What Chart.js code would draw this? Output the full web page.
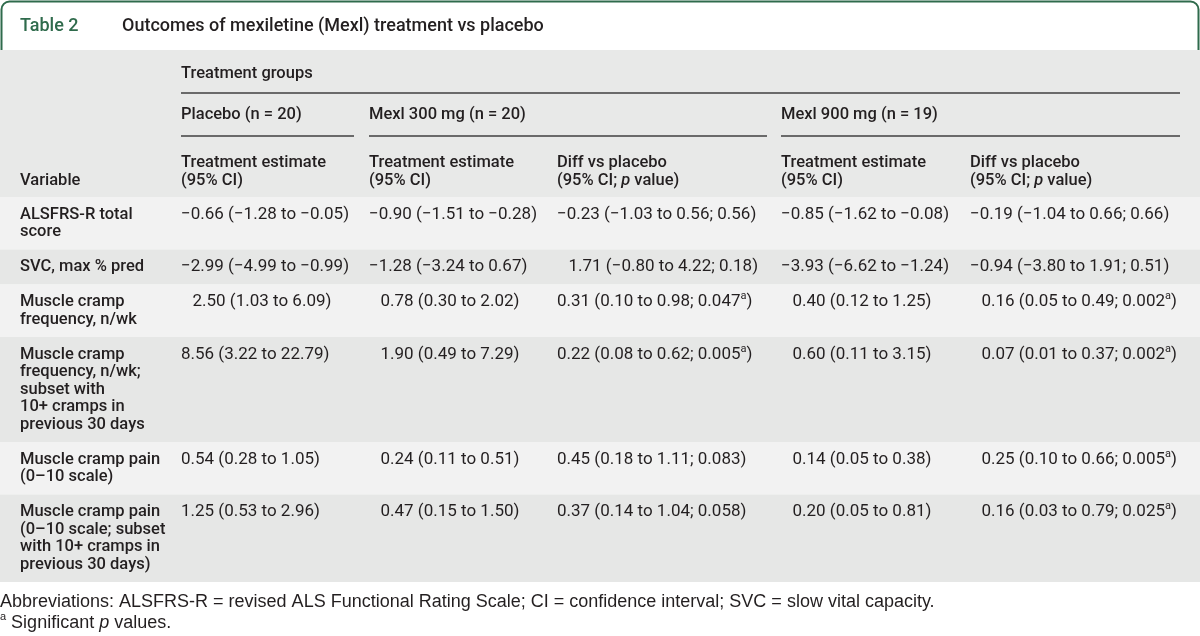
<!DOCTYPE html>
<html>
<head>
<meta charset="utf-8">
<script src="https://cdn.jsdelivr.net/npm/chart.js@4.4.0/dist/chart.umd.min.js"></script>
<style>
  html, body { margin: 0; padding: 0; background: #fff; }
  #wrap { width: 1200px; height: 636px; position: relative; }
</style>
</head>
<body>
<div id="wrap"><canvas id="table"></canvas></div>
<script>
/* global Chart */
// ---- table content ----
const TITLE_LABEL = "Table 2";
const TITLE = "Outcomes of mexiletine (Mexl) treatment vs placebo";
const SPANNER = "Treatment groups";
const GROUPS = ["Placebo (n = 20)", "Mexl 300 mg (n = 20)", "Mexl 900 mg (n = 19)"];
// which data columns each group covers
const GROUP_COLS = [[0, 0], [1, 2], [3, 4]];
const COL_HEADERS = [
  ["Treatment estimate", "(95% CI)"],
  ["Treatment estimate", "(95% CI)"],
  ["Diff vs placebo", "(95% CI; *p* value)"],
  ["Treatment estimate", "(95% CI)"],
  ["Diff vs placebo", "(95% CI; *p* value)"],
];
const STUB_HEADER = "Variable";

const VARIABLES = [
  ["ALSFRS-R total", "score"],
  ["SVC, max % pred"],
  ["Muscle cramp", "frequency, n/wk"],
  ["Muscle cramp", "frequency, n/wk;", "subset with", "10+ cramps in", "previous 30 days"],
  ["Muscle cramp pain", "(0–10 scale)"],
  ["Muscle cramp pain", "(0–10 scale; subset", "with 10+ cramps in", "previous 30 days)"],
];
const PLACEBO = [
  "−0.66 (−1.28 to −0.05)",
  "−2.99 (−4.99 to −0.99)",
  "2.50 (1.03 to 6.09)",
  "8.56 (3.22 to 22.79)",
  "0.54 (0.28 to 1.05)",
  "1.25 (0.53 to 2.96)",
];
const MEXL300 = [
  "−0.90 (−1.51 to −0.28)",
  "−1.28 (−3.24 to 0.67)",
  "0.78 (0.30 to 2.02)",
  "1.90 (0.49 to 7.29)",
  "0.24 (0.11 to 0.51)",
  "0.47 (0.15 to 1.50)",
];
const DIFF300 = [
  "−0.23 (−1.03 to 0.56; 0.56)",
  "1.71 (−0.80 to 4.22; 0.18)",
  "0.31 (0.10 to 0.98; 0.047^a)",
  "0.22 (0.08 to 0.62; 0.005^a)",
  "0.45 (0.18 to 1.11; 0.083)",
  "0.37 (0.14 to 1.04; 0.058)",
];
const MEXL900 = [
  "−0.85 (−1.62 to −0.08)",
  "−3.93 (−6.62 to −1.24)",
  "0.40 (0.12 to 1.25)",
  "0.60 (0.11 to 3.15)",
  "0.14 (0.05 to 0.38)",
  "0.20 (0.05 to 0.81)",
];
const DIFF900 = [
  "−0.19 (−1.04 to 0.66; 0.66)",
  "−0.94 (−3.80 to 1.91; 0.51)",
  "0.16 (0.05 to 0.49; 0.002^a)",
  "0.07 (0.01 to 0.37; 0.002^a)",
  "0.25 (0.10 to 0.66; 0.005^a)",
  "0.16 (0.03 to 0.79; 0.025^a)",
];
const FOOTNOTES = [
  "Abbreviations: ALSFRS-R = revised ALS Functional Rating Scale; CI = confidence interval; SVC = slow vital capacity.",
  "^a Significant *p* values.",
];

// ---- layout & style ----
const FONT = 'Roboto, "Noto Sans", sans-serif';
const FOOT_FONT = '"Liberation Sans", Arial, sans-serif';
const COLORS = {
  green: "#2f6b4c",
  text: "#231f20",
  rule: "#6a6a6a",
  header: "#e8e9e8",
  rowLight: "#f2f2f2",
  rowDark: "#e6e7e6",
};
const L = {
  width: 1200,
  height: 636,
  frameBottom: 50,
  titleY: 26,
  titleLabelX: 20,
  titleX: 122,
  headerTop: 50,
  spannerY: 74,
  rule1Y: 93,
  groupY: 115,
  rule2Y: 136,
  colHeadY: [163, 181],
  headerBottom: 197,
  lineH: 17.5,
  stubX: 20,
  colLeft: [181, 369, 557, 781, 970],
  groupRuleEnd: [354, 767, 1180],
  footY: [602, 623],
  boldSize: 16.5,
  dataSize: 17,
  footSize: 18,
  indent: 11.5,
};
// cells the reference sets with a hanging indent (column, row)
const INDENTED = [[0, 2], [1, 2], [1, 3], [1, 4], [1, 5], [2, 1], [3, 2], [3, 3], [3, 4], [3, 5], [4, 2], [4, 3], [4, 4], [4, 5]];

const columns = [PLACEBO, MEXL300, DIFF300, MEXL900, DIFF900];

// Split "text *italic* text ^a" into styled runs.
function runs(text) {
  return text.split(/(\*[^*]+\*|\^[a-z])/).filter(Boolean).map((s) => {
    if (s.startsWith("*")) return { t: s.slice(1, -1), style: "italic" };
    if (s.startsWith("^")) return { t: s.slice(1), style: "sup" };
    return { t: s, style: "normal" };
  });
}

function fontFor(style, size, weight, family) {
  if (style === "italic") return `italic ${weight} ${size}px ${family}`;
  if (style === "sup") return `${weight} ${Math.round(size * 0.62)}px ${family}`;
  return `${weight} ${size}px ${family}`;
}

function drawText(ctx, text, x, y, opts) {
  const { size = 16, weight = 400, align = "left", color = COLORS.text, family = FONT } = opts || {};
  const parts = runs(text);
  let total = 0;
  for (const p of parts) {
    ctx.font = fontFor(p.style, size, weight, family);
    p.w = ctx.measureText(p.t).width;
    total += p.w;
  }
  let cx = align === "center" ? x - total / 2 : align === "right" ? x - total : x;
  ctx.fillStyle = color;
  ctx.textBaseline = "middle";
  ctx.textAlign = "left";
  for (const p of parts) {
    ctx.font = fontFor(p.style, size, weight, family);
    ctx.fillText(p.t, cx, p.style === "sup" ? y - size * 0.32 : y);
    cx += p.w;
  }
}

const tablePlugin = {
  id: "tablePlugin",
  afterDraw(chart) {
    const ctx = chart.ctx;
    const sx = chart.scales.x;
    const sy = chart.scales.y;
    const px = (v) => sx.getPixelForValue(v);
    const py = (v) => sy.getPixelForValue(v);
    const bold = { size: L.boldSize, weight: 500 };
    ctx.save();

    // header band
    ctx.fillStyle = COLORS.header;
    ctx.fillRect(px(0), py(L.headerTop), px(L.width) - px(0), py(L.headerBottom) - py(L.headerTop));

    // body stripes, heights from line counts
    let top = L.headerBottom;
    const rowTops = [];
    VARIABLES.forEach((lines, i) => {
      const h = L.lineH * (lines.length + 1);
      rowTops.push(top);
      ctx.fillStyle = i % 2 === 0 ? COLORS.rowLight : COLORS.rowDark;
      ctx.fillRect(px(0), py(top), px(L.width) - px(0), py(top + h) - py(top));
      top += h;
    });

    // green title frame with rounded top corners
    const r = 8;
    ctx.strokeStyle = COLORS.green;
    ctx.lineWidth = 2;
    ctx.beginPath();
    ctx.moveTo(px(1.5), py(L.frameBottom));
    ctx.lineTo(px(1.5), py(1.5 + r));
    ctx.arcTo(px(1.5), py(1.5), px(1.5 + r), py(1.5), r);
    ctx.lineTo(px(L.width - 1.5 - r), py(1.5));
    ctx.arcTo(px(L.width - 1.5), py(1.5), px(L.width - 1.5), py(1.5 + r), r);
    ctx.lineTo(px(L.width - 1.5), py(L.frameBottom));
    ctx.stroke();

    drawText(ctx, TITLE_LABEL, px(L.titleLabelX), py(L.titleY), { size: 18, weight: 500, color: COLORS.green });
    drawText(ctx, TITLE, px(L.titleX), py(L.titleY), { size: 18, weight: 500 });

    // header texts and rules
    drawText(ctx, SPANNER, px(L.colLeft[0]), py(L.spannerY), bold);
    ctx.strokeStyle = COLORS.rule;
    ctx.lineWidth = 2;
    ctx.beginPath();
    ctx.moveTo(px(L.colLeft[0]), py(L.rule1Y));
    ctx.lineTo(px(L.groupRuleEnd[2]), py(L.rule1Y));
    GROUPS.forEach((g, i) => {
      const c0 = GROUP_COLS[i][0];
      drawText(ctx, g, px(L.colLeft[c0]), py(L.groupY), bold);
      ctx.moveTo(px(L.colLeft[c0]), py(L.rule2Y));
      ctx.lineTo(px(L.groupRuleEnd[i]), py(L.rule2Y));
    });
    ctx.stroke();

    COL_HEADERS.forEach((lines, c) => {
      lines.forEach((t, k) => drawText(ctx, t, px(L.colLeft[c]), py(L.colHeadY[k]), bold));
    });
    drawText(ctx, STUB_HEADER, px(L.stubX), py(L.colHeadY[1]), bold);

    // body cells
    VARIABLES.forEach((lines, i) => {
      const y0 = rowTops[i] + L.lineH;
      lines.forEach((t, k) => drawText(ctx, t, px(L.stubX), py(y0 + k * L.lineH), bold));
      columns.forEach((col, c) => {
        const ind = INDENTED.some(([cc, rr]) => cc === c && rr === i) ? L.indent : 0;
        drawText(ctx, col[i], px(L.colLeft[c] + ind), py(y0), { size: L.dataSize });
      });
    });

    // footnotes
    FOOTNOTES.forEach((t, k) => drawText(ctx, t, px(0), py(L.footY[k]), { size: L.footSize, family: FOOT_FONT }));

    ctx.restore();
  },
};

new Chart(document.getElementById("table"), {
  type: "scatter",
  data: { datasets: [] },
  options: {
    responsive: true,
    maintainAspectRatio: false,
    animation: false,
    layout: { padding: 0 },
    plugins: { legend: { display: false }, tooltip: { enabled: false } },
    scales: {
      x: { type: "linear", min: 0, max: L.width, display: false },
      y: { type: "linear", min: 0, max: L.height, reverse: true, display: false },
    },
  },
  plugins: [tablePlugin],
});
</script>
</body>
</html>
